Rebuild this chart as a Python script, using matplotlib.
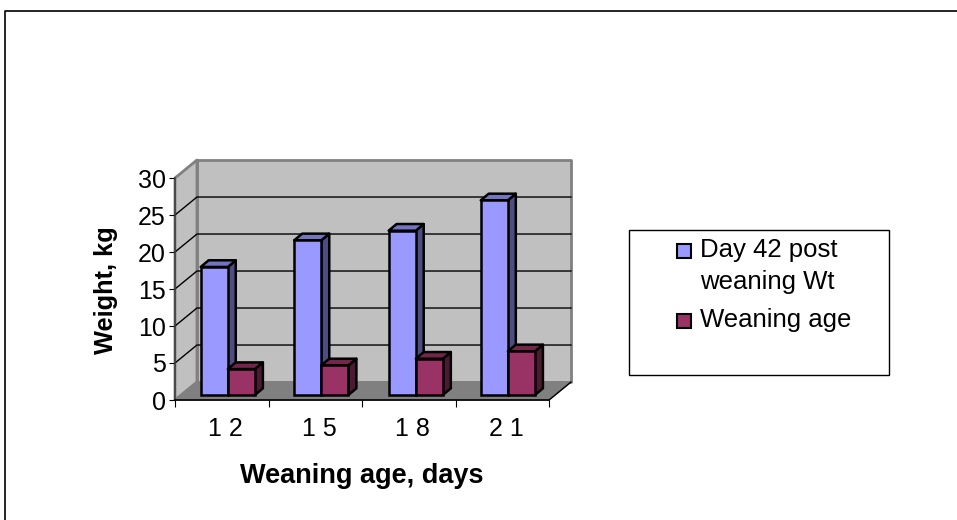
import matplotlib
matplotlib.use('Agg')
import matplotlib.pyplot as plt
from matplotlib.patches import Polygon, Rectangle
from matplotlib.lines import Line2D

categories = ['1 2', '1 5', '1 8', '2 1']
day42_wt = [17.3, 20.9, 22.2, 26.3]
weaning_age = [3.5, 4.0, 4.9, 5.9]
y_ticks = [0, 5, 10, 15, 20, 25, 30]
series_names = ['Day 42 post\nweaning Wt', 'Weaning age']

W, H = 957, 520
plt.rcParams['font.family'] = ['Liberation Sans', 'DejaVu Sans']

fig = plt.figure(figsize=(W / 100, H / 100), dpi=100)


def px_rect(x0, y0, x1, y1):
    # pixel box (top-left origin) to figure fractions
    return [x0 / W, 1 - y1 / H, (x1 - x0) / W, (y1 - y0) / H]


ax = fig.add_axes(px_rect(175, 178, 549, 400))
ax.set_xlim(0, 4)
ax.set_ylim(0, 30)
ax.patch.set_visible(False)

# oblique depth of the fake 3d box, in data units
dx, dy = 0.235, 2.43
wall_edge = '#808080'


def poly(pts, face, edge='black', lw=1.8, z=2):
    ax.add_patch(Polygon(pts, closed=True, facecolor=face, edgecolor=edge,
                         linewidth=lw, clip_on=False, zorder=z, joinstyle='round'))


# walls and floor
poly([(dx, dy), (4 + dx, dy), (4 + dx, 30 + dy), (dx, 30 + dy)], '#C0C0C0', wall_edge, 2, 1)
poly([(0, 0), (dx, dy), (dx, 30 + dy), (0, 30)], '#C0C0C0', wall_edge, 2, 1)
poly([(0, 0), (4, 0), (4 + dx, dy), (dx, dy)], '#808080', wall_edge, 1, 1.2)
ax.plot([4, 4 + dx], [0, dy], color='black', lw=1, clip_on=False, zorder=1.3)

for v in y_ticks[1:-1]:
    ax.plot([0, dx, 4 + dx], [v, v + dy, v + dy], color='black', lw=1,
            clip_on=False, zorder=1.1)


def bar3d(x, h, width, colors, z):
    base = 0.68
    bdx, bdy = 0.085, 0.9
    front, top, side = colors
    poly([(x + width, base), (x + width + bdx, base + bdy),
          (x + width + bdx, h + base + bdy), (x + width, h + base)], side, z=z)
    poly([(x, h + base), (x + width, h + base),
          (x + width + bdx, h + base + bdy), (x + bdx, h + base + bdy)], top, z=z)
    ax.add_patch(Rectangle((x, base), width, h, facecolor=front, edgecolor='black',
                           linewidth=1.8, clip_on=False, zorder=z))


blue = ('#9999FF', '#7373BF', '#4D4D80')
red = ('#993366', '#732649', '#4D1A33')
bar_w = 0.29
starts = [0.275, 1.275, 2.285, 3.27]
for i in range(len(categories)):
    bar3d(starts[i], day42_wt[i], bar_w, blue, 3)
    bar3d(starts[i] + bar_w, weaning_age[i], bar_w, red, 4)

for s in ['top', 'right']:
    ax.spines[s].set_visible(False)
ax.spines['left'].set_color('#404040')
ax.spines['left'].set_linewidth(1.2)
ax.spines['bottom'].set_linewidth(1.2)
for s in ['left', 'bottom']:
    ax.spines[s].set_zorder(5)

ax.set_yticks(y_ticks)
ax.tick_params(axis='y', labelsize=18, length=6.5 * 0.72, width=0.8, pad=2)
ax.set_xticks(range(5))
ax.set_xticklabels([])
ax.tick_params(axis='x', length=5, width=0.8)
ax.set_xticks([i + 0.54 for i in range(4)], minor=True)
ax.set_xticklabels(categories, minor=True, fontsize=18)
ax.tick_params(axis='x', which='minor', length=0, pad=12)

fig.text(362 / W, 1 - 476 / H, 'Weaning age, days', fontsize=19.5, fontweight='bold',
         ha='center', va='center')
fig.text(106 / W, 1 - 290 / H, 'Weight, kg', fontsize=18.3, fontweight='bold',
         rotation=90, ha='center', va='center')

# outer frame, runs off the right and bottom of the image
fig.add_artist(Line2D([5 / W, 5 / W, 1], [0, 1 - 10.5 / H, 1 - 10.5 / H], color='black', lw=1.2))

# legend box
fig.add_artist(Rectangle((629 / W, 1 - 375 / H), 260 / W, 145 / H, facecolor='white',
                         edgecolor='black', linewidth=1, transform=fig.transFigure))
for y, c in zip([244, 314], [blue[0], red[0]]):
    fig.add_artist(Rectangle((677 / W, 1 - (y + 14) / H), 14 / W, 14 / H, facecolor=c,
                             edgecolor='black', linewidth=1.5, transform=fig.transFigure))
fig.text(700 / W, 1 - 266 / H, series_names[0], fontsize=18.5, ha='left', va='center',
         linespacing=1.37)
fig.text(700 / W, 1 - 320 / H, series_names[1], fontsize=18.5, ha='left', va='center')

fig.savefig('out.png', dpi=100)
